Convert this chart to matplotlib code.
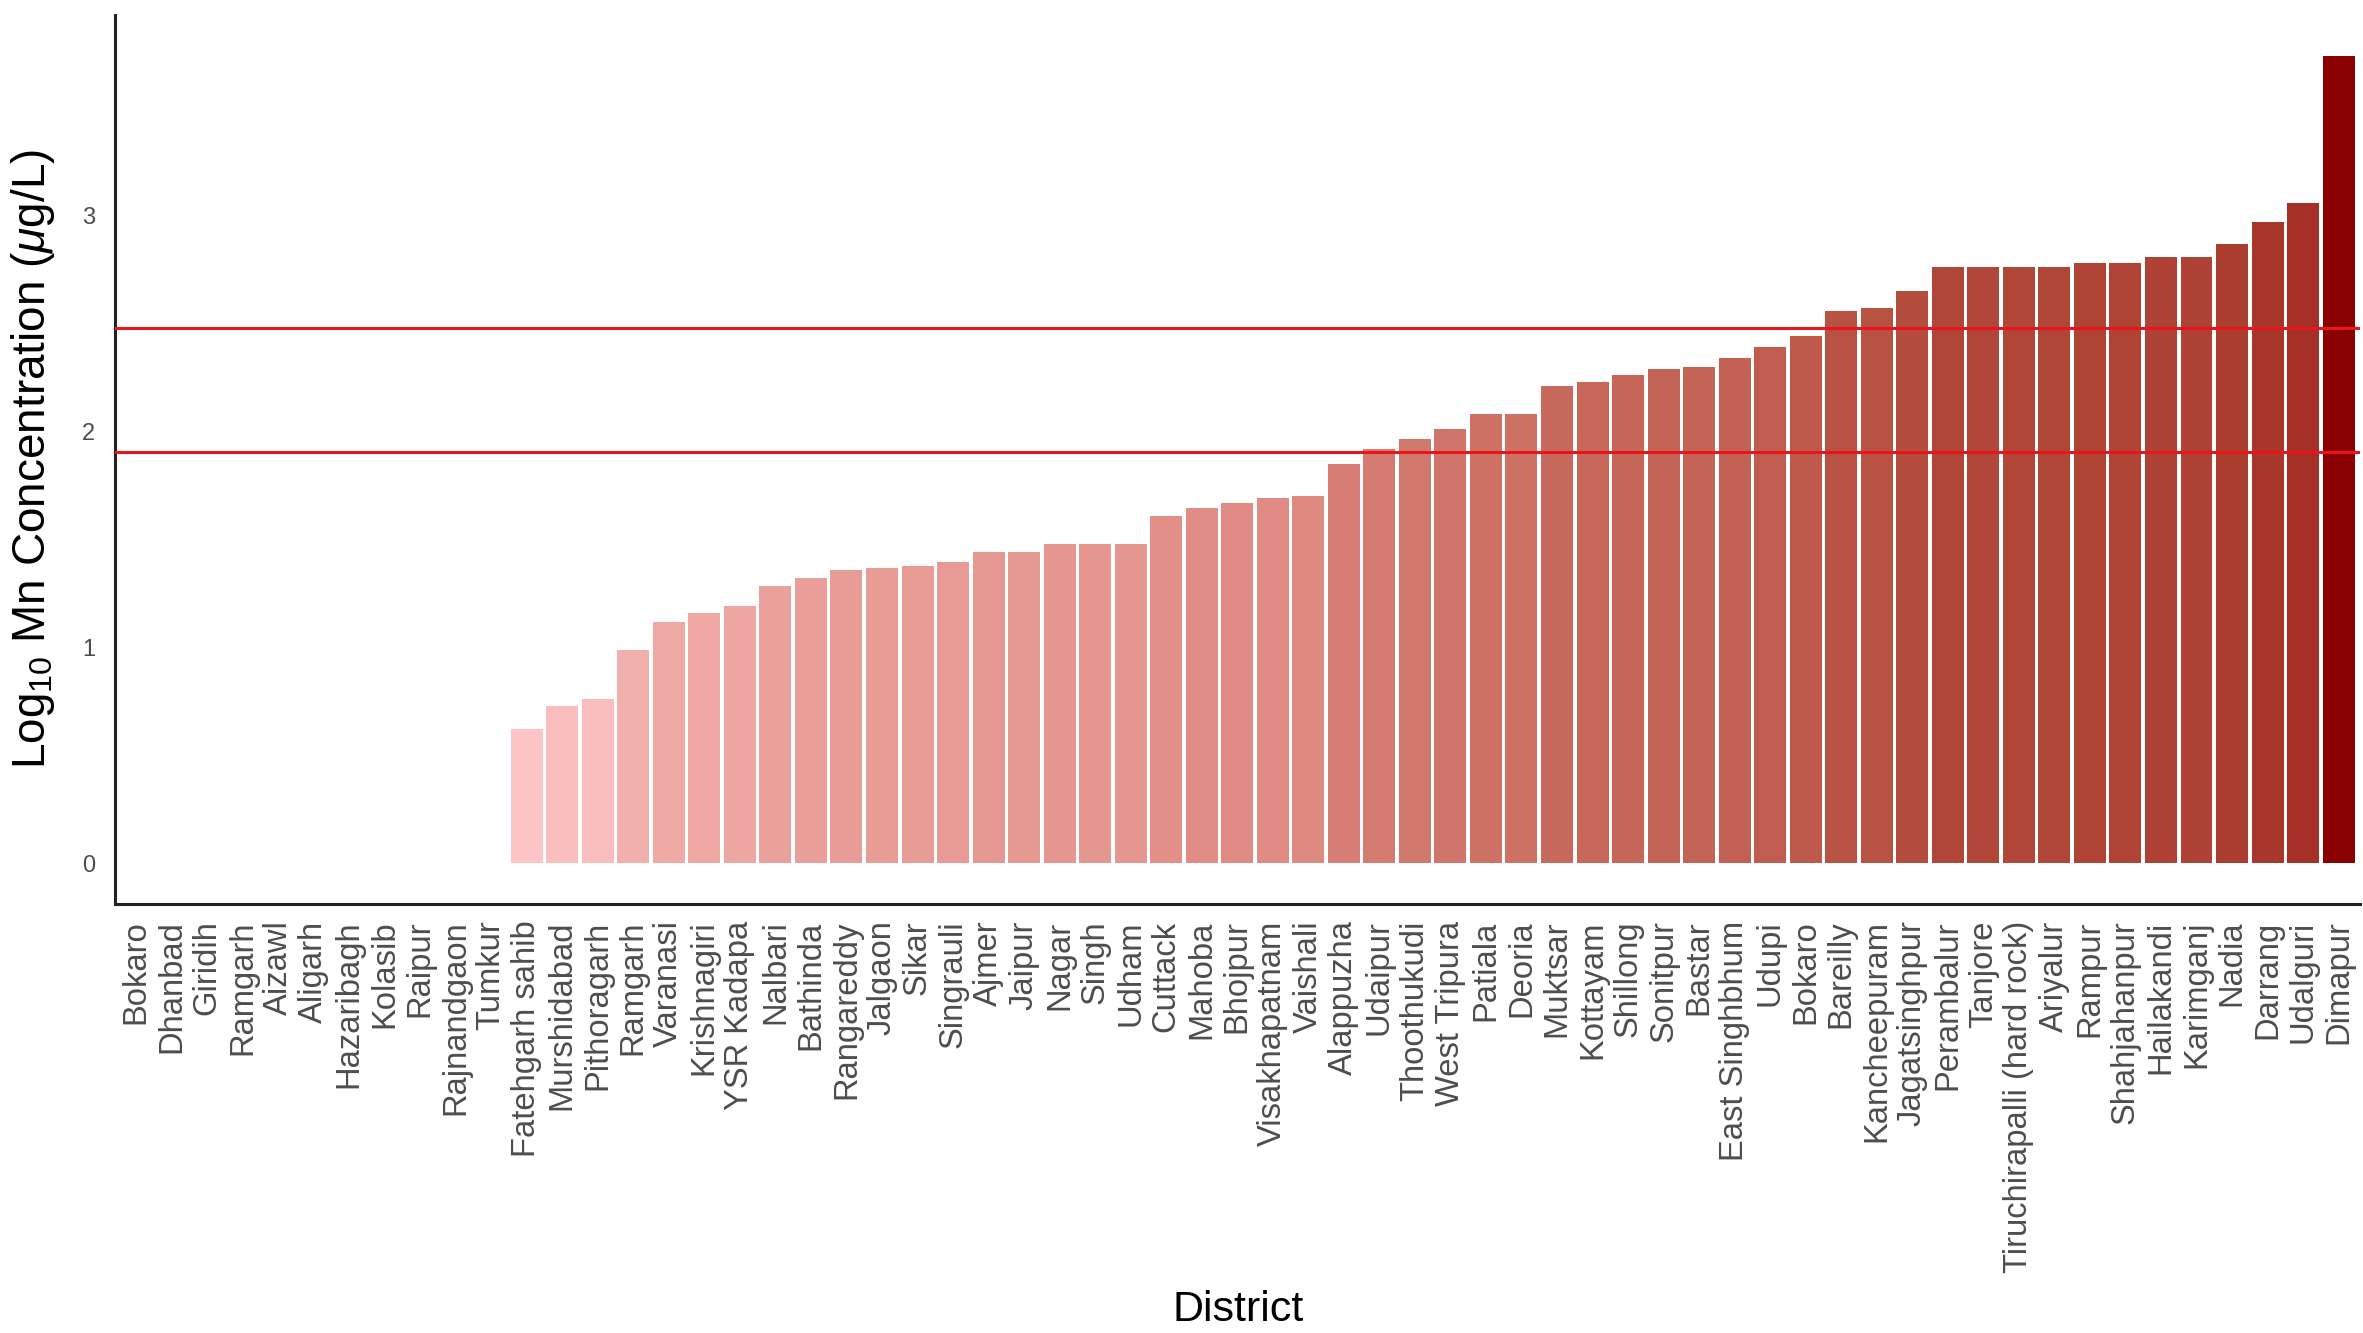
import matplotlib

matplotlib.use("Agg")
import matplotlib.pyplot as plt
import numpy as np
from matplotlib.colors import LinearSegmentedColormap, Normalize

plt.rcParams["font.family"] = ["Liberation Sans", "DejaVu Sans"]
plt.rcParams["mathtext.fontset"] = "custom"
plt.rcParams["mathtext.rm"] = "Liberation Sans"
plt.rcParams["mathtext.it"] = "Liberation Sans:italic"

districts = [
    "Bokaro", "Dhanbad", "Giridih", "Ramgarh", "Aizawl", "Aligarh", "Hazaribagh",
    "Kolasib", "Raipur", "Rajnandgaon", "Tumkur", "Fatehgarh sahib", "Murshidabad",
    "Pithoragarh", "Ramgarh", "Varanasi", "Krishnagiri", "YSR Kadapa", "Nalbari",
    "Bathinda", "Rangareddy", "Jalgaon", "Sikar", "Singrauli", "Ajmer", "Jaipur",
    "Nagar", "Singh", "Udham", "Cuttack", "Mahoba", "Bhojpur", "Visakhapatnam",
    "Vaishali", "Alappuzha", "Udaipur", "Thoothukudi", "West Tripura", "Patiala",
    "Deoria", "Muktsar", "Kottayam", "Shillong", "Sonitpur", "Bastar",
    "East Singhbhum", "Udupi", "Bokaro", "Bareilly", "Kancheepuram", "Jagatsinghpur",
    "Perambalur", "Tanjore", "Tiruchirapalli (hard rock)", "Ariyalur", "Rampur",
    "Shahjahanpur", "Hailakandi", "Karimganj", "Nadia", "Darrang", "Udalguri",
    "Dimapur",
]

log_mn = [
    0, 0, 0, 0, 0, 0, 0, 0, 0, 0, 0,
    0.62, 0.73, 0.76, 0.99, 1.12, 1.16, 1.19, 1.285, 1.32, 1.36, 1.37, 1.375,
    1.395, 1.44, 1.44, 1.48, 1.48, 1.48, 1.61, 1.645, 1.67, 1.69, 1.70, 1.85,
    1.92, 1.965, 2.01, 2.08, 2.08, 2.21, 2.23, 2.26, 2.29, 2.30, 2.34, 2.39,
    2.44, 2.56, 2.57, 2.65, 2.76, 2.76, 2.76, 2.76, 2.78, 2.78, 2.81, 2.81,
    2.87, 2.97, 3.06, 3.74,
]

# guideline values (log10 of 80 and 300 ug/L)
limits = [1.905, 2.477]

values = np.array(log_mn, dtype=float)
x = np.arange(len(districts))

cmap = LinearSegmentedColormap.from_list("reds", ["#FCC4C4", "#E08C84", "#B24A3A", "#8B0000"])
pos = values[values > 0]
norm = Normalize(vmin=pos.min(), vmax=pos.max())
colors = [cmap(norm(v)) if v > 0 else (1, 1, 1, 0) for v in values]

fig = plt.figure(figsize=(11.815, 6.665), dpi=200)
ax = fig.add_axes([0.0485, 0.322, 0.9502, 0.667])

ax.bar(x, values, width=0.9, color=colors, edgecolor="none")
for h in limits:
    ax.axhline(h, color="#E8161B", linewidth=1.1, zorder=3)

ax.set_xlim(-0.6, len(districts) - 0.4)
ax.set_ylim(-0.187, 3.93)
ax.set_yticks([0, 1, 2, 3])
ax.set_xticks(x)
ax.set_xticklabels(districts, rotation=90, ha="center", va="top")

ax.tick_params(axis="both", length=0, colors="#4D4D4D")
ax.tick_params(axis="x", labelsize=11.8, pad=6)
ax.tick_params(axis="y", labelsize=8.5, pad=7)

for side in ["top", "right"]:
    ax.spines[side].set_visible(False)
for side in ["left", "bottom"]:
    ax.spines[side].set_linewidth(1.1)
    ax.spines[side].set_color("#222222")

fig.text(0.524, 0.017, "District", fontsize=15.5, ha="center", va="center")
ax.set_ylabel(r"Log$_{10}$ Mn Concentration ($\mu$g/L)", fontsize=16.5, labelpad=9)

fig.savefig("out.png", dpi=200)
